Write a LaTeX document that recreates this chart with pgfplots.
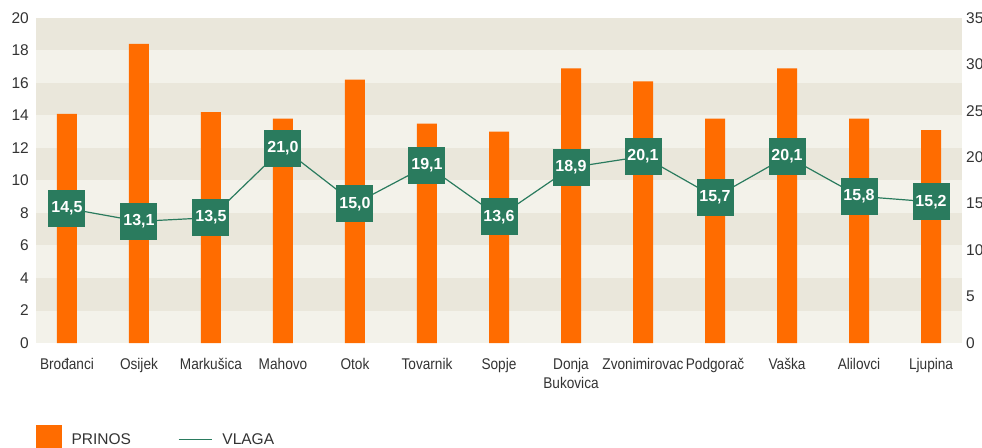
\documentclass[border=0pt]{standalone}
\usepackage{pgfplots}
\usepackage{pgfplotstable}
\pgfplotsset{compat=1.18}
\usepackage{fontspec}
\setmainfont{Liberation Sans}
\newfontfamily\condfont[FakeStretch=0.88]{Liberation Sans}
\definecolor{barorange}{HTML}{FF6C00}
\definecolor{linegreen}{HTML}{2A7B5E}
\definecolor{stripeA}{HTML}{EAE7DB}
\definecolor{stripeB}{HTML}{F3F2EA}
\definecolor{textgray}{HTML}{333333}

\pgfplotstableread{
x prinos vlaga
0  14.1 14.5
1  18.4 13.1
2  14.2 13.5
3  13.8 21.0
4  16.2 15.0
5  13.5 19.1
6  13.0 13.6
7  16.9 18.9
8  16.1 20.1
9  13.8 15.7
10 16.9 20.1
11 13.8 15.8
12 13.1 15.2
}\data

\begin{document}
\begin{tikzpicture}
\begin{axis}[
  at={(0,0)}, anchor=south west,
  scale only axis, width=926pt, height=325pt,
  xmin=-0.43, xmax=12.43, ymin=0, ymax=20,
  axis line style={draw=none}, major tick length=0pt,
  axis y line*=left, axis x line*=bottom,
  ytick={0,2,...,20},
  xtick={0,...,12},
  xticklabels={Brođanci,Osijek,Markušica,Mahovo,Otok,Tovarnik,Sopje,{Donja\\Bukovica},Zvonimirovac,Podgorač,Vaška,Alilovci,Ljupina},
  xticklabel style={font=\condfont\fontsize{15.5}{19}\selectfont, text=textgray, align=center, inner sep=0pt, anchor=north, yshift=-15pt},
  yticklabel style={font=\fontsize{15.5}{16}\selectfont, text=textgray, inner sep=0pt, anchor=east, xshift=-7pt},
  /pgf/number format/assume math mode=true,
]
\fill[stripeB] (axis cs:-0.43,0) rectangle (axis cs:12.43,20);
\fill[stripeA] (axis cs:-0.43,2) rectangle (axis cs:12.43,4);
\fill[stripeA] (axis cs:-0.43,6) rectangle (axis cs:12.43,8);
\fill[stripeA] (axis cs:-0.43,10) rectangle (axis cs:12.43,12);
\fill[stripeA] (axis cs:-0.43,14) rectangle (axis cs:12.43,16);
\fill[stripeA] (axis cs:-0.43,18) rectangle (axis cs:12.43,20);
\addplot[ybar, bar width=20pt, fill=barorange, draw=none] table[x=x,y=prinos]{\data};
\end{axis}
\begin{axis}[
  at={(0,0)}, anchor=south west,
  scale only axis, width=926pt, height=325pt,
  xmin=-0.43, xmax=12.43, ymin=0, ymax=35,
  axis line style={draw=none}, major tick length=0pt,
  axis y line*=right, axis x line=none,
  ytick={0,5,...,35},
  yticklabel style={font=\fontsize{15.5}{16}\selectfont, text=textgray, inner sep=0pt, anchor=west, xshift=4pt},
  /pgf/number format/assume math mode=true,
  legend columns=2,
  legend style={at={(axis description cs:0,0)}, anchor=west, yshift=-95pt, xshift=0pt,
    draw=none, fill=none, inner sep=0pt, font=\fontsize{15.5}{16}\selectfont, text=textgray,
    nodes={inner sep=0pt},
    /tikz/every odd column/.append style={column sep=10pt},
    /tikz/every even column/.append style={column sep=47pt}},
  legend cell align=left,
]
\addlegendimage{legend image code/.code={\fill[barorange] (0pt,-11pt) rectangle (25pt,14pt);}}
\addlegendentry{PRINOS}
\addplot[linegreen, line width=1.2pt, mark=none,
  legend image code/.code={\draw[linegreen, line width=1.4pt] (0pt,0pt) -- (33pt,0pt);},
  nodes near coords={\pgfmathprintnumber[fixed,fixed zerofill,precision=1,use comma]{\pgfplotspointmeta}},
  every node near coord/.append style={anchor=center, fill=linegreen, text=white,
    font=\bfseries\fontsize{16}{16}\selectfont, minimum width=37pt, minimum height=37pt, inner sep=0pt},
] table[x=x,y=vlaga]{\data};
\addlegendentry{VLAGA}
\end{axis}
\pgfresetboundingbox
\path[use as bounding box] (-36pt,-104pt) rectangle (946pt,343pt);
\end{tikzpicture}
\end{document}
